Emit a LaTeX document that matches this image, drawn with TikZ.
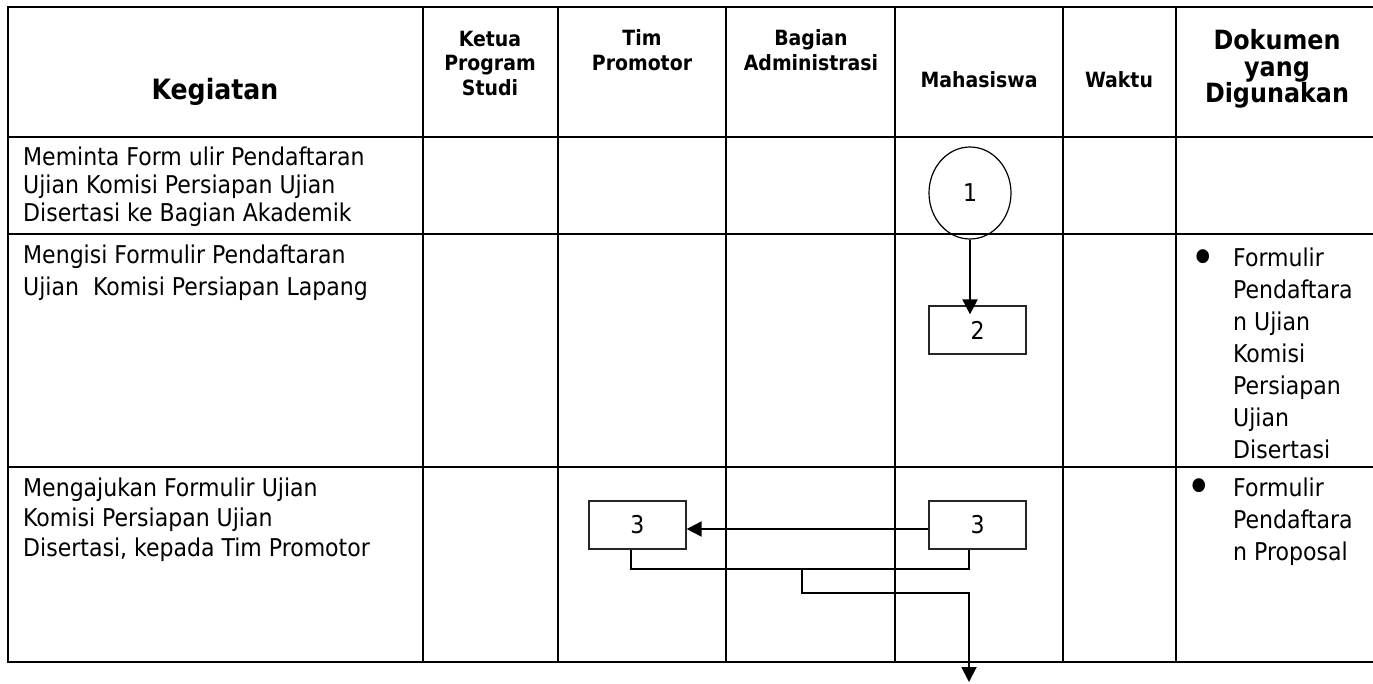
\documentclass[tikz,border=0pt]{standalone}
\usepackage{fontspec}
\setmainfont{DejaVu Sans Condensed}
\usetikzlibrary{shapes.geometric,arrows.meta}

\begin{document}
\begin{tikzpicture}[x=1pt,y=-1pt,
  grid/.style={line width=2pt, line cap=rect},
  hd/.style={font=\fontsize{21}{24.5}\selectfont\bfseries, align=center, inner sep=0},
  hdbig/.style={font=\fontsize{26.5}{26.5}\selectfont\bfseries, align=center, inner sep=0},
  cell/.style={font=\fontsize{24.5}{28}\selectfont, align=left, anchor=north west, inner sep=0},
  dot/.style={font=\fontsize{48}{48}\selectfont, inner sep=0, anchor=base},
  stepbox/.style={draw=black!85, line width=1.2pt, minimum width=97pt, minimum height=48pt, inner sep=0, font=\fontsize{24.5}{28}\selectfont},
  flow/.style={line width=1.6pt},
  flowarr/.style={line width=1.9pt, -{Triangle[length=15pt,width=15pt]}}]
\useasboundingbox (0,0) rectangle (1373,683);
\draw [grid] (8,7) -- (1373,7) (8,137) -- (1373,137) (8,234) -- (1373,234) (8,467) -- (1373,467) (8,662) -- (1373,662);
\draw [grid] (8,7) -- (8,662) (423,7) -- (423,662) (558,7) -- (558,662) (726,7) -- (726,662) (895,7) -- (895,662) (1063,7) -- (1063,662) (1176,7) -- (1176,662);
\node [hdbig, font=\fontsize{28}{28}\selectfont\bfseries] (kegiatan) at (215,92) {Kegiatan};
\node [hd] (ketua) at (490,63) {Ketua\\Program\\Studi};
\node [hd] (tim) at (642,50) {Tim\\Promotor};
\node [hd] (bagian) at (811,50) {Bagian\\Administrasi};
\node [hd] (mhs) at (979,80) {Mahasiswa};
\node [hd] (waktu) at (1119,80) {Waktu};
\node [hdbig] (dokumen) at (1277,69) {Dokumen\\yang\\Digunakan};
\node [cell] (kgA) at (23,147) {Meminta Form ulir Pendaftaran\\Ujian Komisi Persiapan Ujian\\Disertasi ke Bagian Akademik};
\node [cell, font=\fontsize{24.5}{31.5}\selectfont] (kgB) at (23,245) {Mengisi Formulir Pendaftaran\\Ujian\ \ Komisi Persiapan Lapang};
\node [cell, font=\fontsize{24.5}{30}\selectfont] (kgC) at (23,478) {Mengajukan Formulir Ujian\\Komisi Persiapan Ujian\\Disertasi, kepada Tim Promotor};
\node [dot] (bulB) at (1203,274) {•};
\node [cell, font=\fontsize{24.5}{32}\selectfont] (dokB) at (1233,248) {Formulir\\Pendaftara\\n Ujian\\Komisi\\Persiapan\\Ujian\\Disertasi};
\node [dot] (bulC) at (1199,503) {•};
\node [cell, font=\fontsize{24.5}{32}\selectfont] (dokC) at (1233,478) {Formulir\\Pendaftara\\n Proposal};
\node [draw, ellipse, line width=1.2pt, minimum width=82pt, minimum height=92pt, inner sep=0, font=\fontsize{24.5}{28}\selectfont] (mhsA) at (970,193) {1};
\node [stepbox] (mhsB) at (977.5,330) {2};
\node [stepbox] (timC) at (637.5,525) {3};
\node [stepbox] (mhsC) at (977.5,525) {3};
\coordinate (jnA) at (802,569);
\coordinate (jnB) at (802,593);
\coordinate (endC) at (969,682);
\draw [flowarr] (mhsA) -- ([xshift=-7.5pt,yshift=-9pt]mhsB.north);
\draw [flowarr] ([yshift=-4pt]mhsC.west) -- ([yshift=-4pt]timC.east);
\draw [flow] ([xshift=-6.5pt]timC.south) |- (jnA) -| ([xshift=-8.5pt]mhsC.south);
\draw [flowarr] (jnA) -- (jnB) -| (endC);
\end{tikzpicture}
\end{document}
